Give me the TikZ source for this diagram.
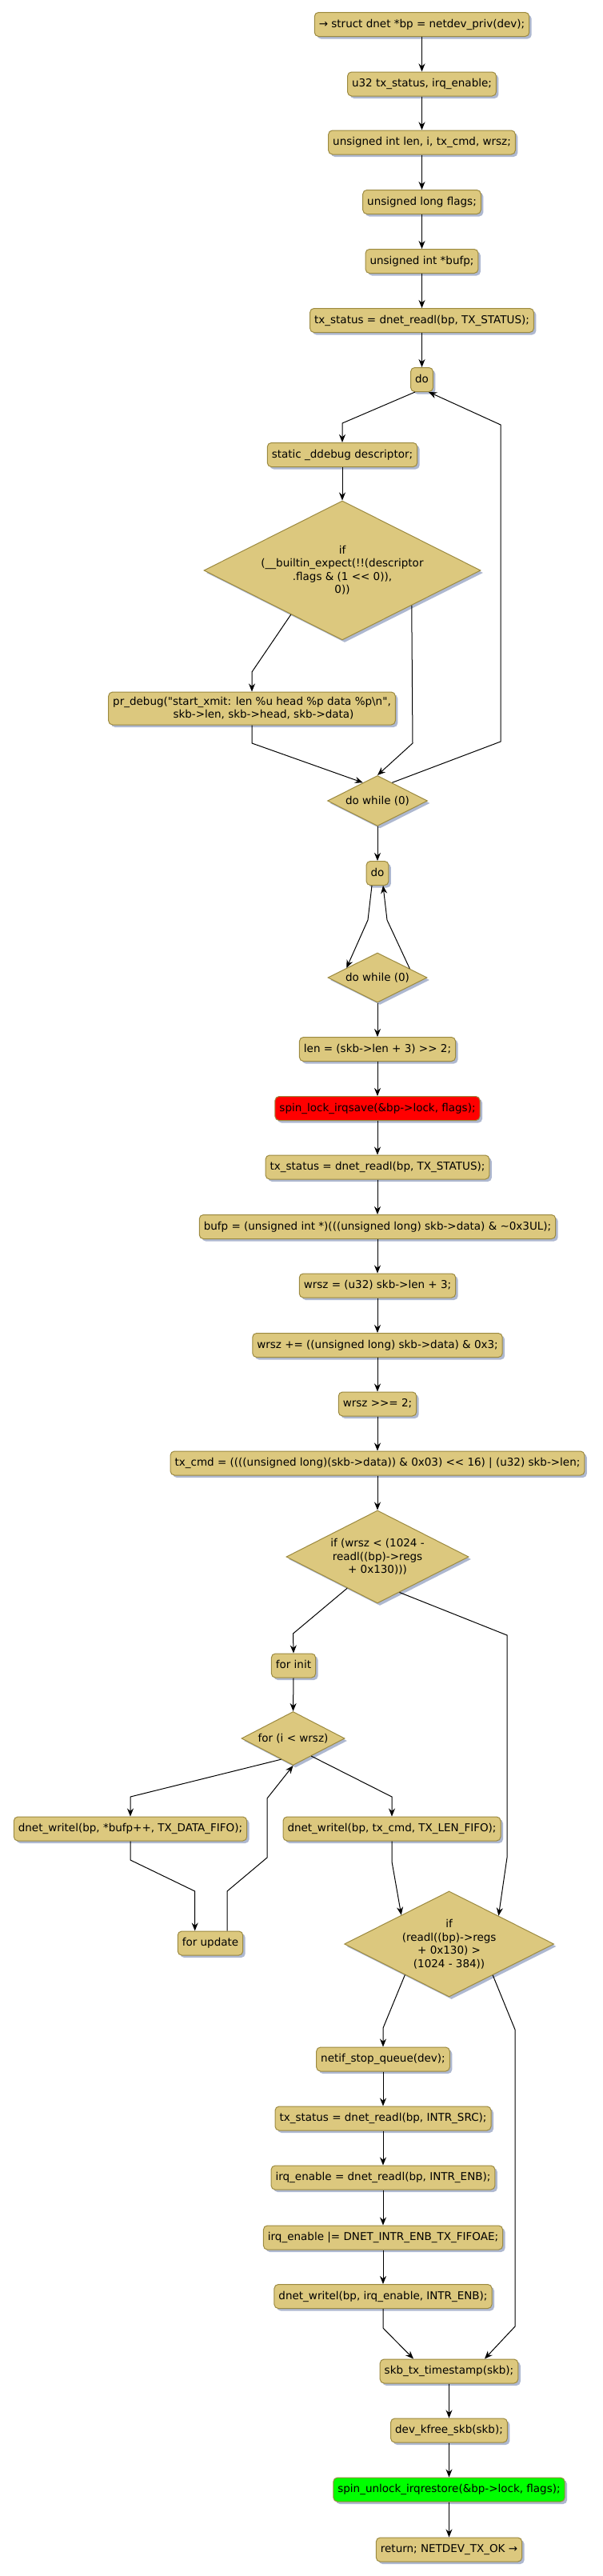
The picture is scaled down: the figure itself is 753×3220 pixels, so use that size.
\documentclass[tikz,border=0pt]{standalone}
\usepackage{fontspec}
\setmainfont{DejaVu Sans}[Ligatures=TeXOff]
\usetikzlibrary{shapes.geometric,arrows.meta,shadows,calc}
\definecolor{fillc}{HTML}{DCC87E}
\definecolor{bordc}{HTML}{9C8A40}
\definecolor{shadc}{HTML}{AEB8D0}
\newcommand{\fsz}{\fontsize{13.5}{16.5}\selectfont}
\tikzset{
  shad/.style={drop shadow={shadow xshift=3pt,shadow yshift=-3pt,fill=shadc,opacity=1}},
  act/.style={draw=bordc,fill=fillc,rounded corners=5pt,line width=1pt,inner xsep=5.5pt,inner ysep=0pt,
    minimum height=30pt,text height=10pt,text depth=3pt,font=\fsz,shad},
  dec/.style={diamond,draw=bordc,fill=fillc,line width=1pt,inner sep=0pt,aspect=2,align=center,font=\fsz,shad},
  arr/.style={-{Stealth[length=10pt,width=8pt]},line width=1pt,black},
}
\begin{document}
\begin{tikzpicture}[x=1pt,y=-1pt]
\useasboundingbox (0,0) rectangle (753,3220);
\fill[white] (0,0) rectangle (753,3220);

\node[act] (n1) at (527.5,30.5) {→ struct dnet *bp = netdev\_priv(dev);};
\node[act] (n2) at (527.5,105) {u32 tx\_status, irq\_enable;};
\node[act] (n3) at (527.5,178) {unsigned int len, i, tx\_cmd, wrsz;};
\node[act] (n4) at (527.5,252.5) {unsigned long flags;};
\node[act] (n5) at (527.5,326.5) {unsigned int *bufp;};
\node[act] (n6) at (527.5,400.5) {tx\_status = dnet\_readl(bp, TX\_STATUS);};
\node[act] (do1) at (527.5,474.5) {do};
\node[act] (st) at (428,568.5) {static \_ddebug descriptor;};
\node[dec,minimum width=346pt,minimum height=174pt] (if1) at (428,713)
  {if\\(\_\_builtin\_expect(!!(descriptor\\.flags \& (1 << 0)),\\0))};
\node[act,align=center,minimum height=41pt,text height=,text depth=,inner ysep=3pt] (pr) at (315,885.5)
  {pr\_debug("start\_xmit: len \%u head \%p data \%p\textbackslash n",\\\hspace*{29pt}skb->len, skb->head, skb->data)};
\node[dec,minimum width=125pt,minimum height=63pt] (dw1) at (472,1001) {do while (0)};
\node[act] (do2) at (472,1091.5) {do};
\node[dec,minimum width=124pt,minimum height=62pt] (dw2) at (472,1222) {do while (0)};
\node[act] (len) at (472,1311.5) {len = (skb->len + 3) >> 2;};
\node[act,fill=red] (spin) at (472,1385.5) {spin\_lock\_irqsave(\&bp->lock, flags);};
\node[act] (txs2) at (472,1459) {tx\_status = dnet\_readl(bp, TX\_STATUS);};
\node[act] (bufp) at (472,1533.5) {bufp = (unsigned int *)(((unsigned long) skb->data) \& \textasciitilde 0x3UL);};
\node[act] (wr1) at (472,1607) {wrsz = (u32) skb->len + 3;};
\node[act] (wr2) at (472,1681.5) {wrsz += ((unsigned long) skb->data) \& 0x3;};
\node[act] (wr3) at (472,1755) {wrsz >>= 2;};
\node[act] (txcmd) at (472,1829) {tx\_cmd = ((((unsigned long)(skb->data)) \& 0x03) << 16) | (u32) skb->len;};
\node[dec,minimum width=228pt,minimum height=116pt] (if2) at (472,1946)
  {if (wrsz < (1024 -\\readl((bp)->regs\\+ 0x130)))};
\node[act] (finit) at (367,2082) {for init};
\node[dec,minimum width=129pt,minimum height=67pt] (fcond) at (366.5,2173) {for (i < wrsz)};
\node[act] (wdata) at (163,2286) {dnet\_writel(bp, *bufp++, TX\_DATA\_FIFO);};
\node[act] (wcmd) at (490,2286) {dnet\_writel(bp, tx\_cmd, TX\_LEN\_FIFO);};
\node[act] (fupd) at (263,2429) {for update};
\node[dec,minimum width=262pt,minimum height=132pt] (if3) at (561.6,2430)
  {if\\(readl((bp)->regs\\+ 0x130) >\\(1024 - 384))};
\node[act] (netif) at (479,2574) {netif\_stop\_queue(dev);};
\node[act] (txs3) at (479,2648) {tx\_status = dnet\_readl(bp, INTR\_SRC);};
\node[act] (irq1) at (479,2722) {irq\_enable = dnet\_readl(bp, INTR\_ENB);};
\node[act] (irq2) at (479,2797) {irq\_enable |= DNET\_INTR\_ENB\_TX\_FIFOAE;};
\node[act] (wirq) at (479,2870.5) {dnet\_writel(bp, irq\_enable, INTR\_ENB);};
\node[act] (skbts) at (561.5,2964) {skb\_tx\_timestamp(skb);};
\node[act] (kfree) at (561.5,3038) {dev\_kfree\_skb(skb);};
\node[act,fill=green] (unl) at (561.5,3112) {spin\_unlock\_irqrestore(\&bp->lock, flags);};
\node[act] (ret) at (561.5,3187) {return; NETDEV\_TX\_OK →};

% straight connectors
\foreach \a/\b in {n1/n2,n2/n3,n3/n4,n4/n5,n5/n6,n6/do1,st/if1,dw1/do2,dw2/len,len/spin,spin/txs2,
  txs2/bufp,bufp/wr1,wr1/wr2,wr2/wr3,wr3/txcmd,txcmd/if2,finit/fcond,netif/txs3,txs3/irq1,
  irq1/irq2,irq2/wirq,skbts/kfree,kfree/unl,unl/ret}
  \draw[arr] (\a.south) -- (\b.north);

% bend points
\coordinate (c1) at (428,529);
\coordinate (c2a) at (626,927);
\coordinate (c2b) at (626,531);
\coordinate (c3) at (315,840);
\coordinate (c4) at (516,929);
\coordinate (c5) at (315,929);
\coordinate (c6) at (460,1150);
\coordinate (c7) at (484,1150);
\coordinate (c8) at (366.5,2042);
\coordinate (c9a) at (634,2044);
\coordinate (c9b) at (634,2322);
\coordinate (c10) at (163,2246);
\coordinate (c11) at (490,2246);
\coordinate (c12a) at (163,2325);
\coordinate (c12b) at (243.7,2364);
\coordinate (c13a) at (284,2364);
\coordinate (c13b) at (334,2322);
\coordinate (c13c) at (334,2248);
\coordinate (c14) at (490,2327);
\coordinate (c15) at (479,2535);
\coordinate (c16a) at (644,2537);
\coordinate (c16b) at (644,2908);
\coordinate (c17) at (479,2910);

\draw[arr] ($(do1.south)+(-8.5,0)$) -- (c1) -- (st.north);
\draw[arr] ($(dw1.north)!0.29!(dw1.east)$) -- (c2a) -- (c2b) -- ($(do1.south)+(8.5,0)$);
\draw[arr] ($(if1.south)!0.37!(if1.west)$) -- (c3) -- (pr.north);
\draw[arr] ($(if1.east)!0.5!(if1.south)$) -- (c4) -- (dw1.north);
\draw[arr] (pr.south) -- (c5) -- ($(dw1.north)!0.29!(dw1.west)$);
\draw[arr] ($(do2.south)+(-7,0)$) -- (c6) -- ($(dw2.north)!0.62!(dw2.west)$);
\draw[arr] ($(dw2.north)!0.645!(dw2.east)$) -- (c7) -- ($(do2.south)+(7,0)$);
\draw[arr] ($(if2.west)!0.67!(if2.south)$) -- (c8) -- (finit.north);
\draw[arr] ($(if2.east)!0.76!(if2.south)$) -- (c9a) -- (c9b) -- ($(if3.north)!0.47!(if3.east)$);
\draw[arr] ($(fcond.west)!0.77!(fcond.south)$) -- (c10) -- (wdata.north);
\draw[arr] ($(fcond.east)!0.65!(fcond.south)$) -- (c11) -- (wcmd.north);
\draw[arr] (wdata.south) -- (c12a) -- (c12b) -- (c12b |- fupd.north);
\draw[arr] ($(fupd.north)+(21,0)$) -- (c13a) -- (c13b) -- (c13c) -- (fcond.south);
\draw[arr] (wcmd.south) -- (c14) -- ($(if3.north)!0.455!(if3.west)$);
\draw[arr] ($(if3.west)!0.58!(if3.south)$) -- (c15) -- (netif.north);
\draw[arr] ($(if3.east)!0.585!(if3.south)$) -- (c16a) -- (c16b) -- ($(skbts.north)+(44.5,0)$);
\draw[arr] (wirq.south) -- (c17) -- ($(skbts.north)+(-44.5,0)$);
\end{tikzpicture}
\end{document}
